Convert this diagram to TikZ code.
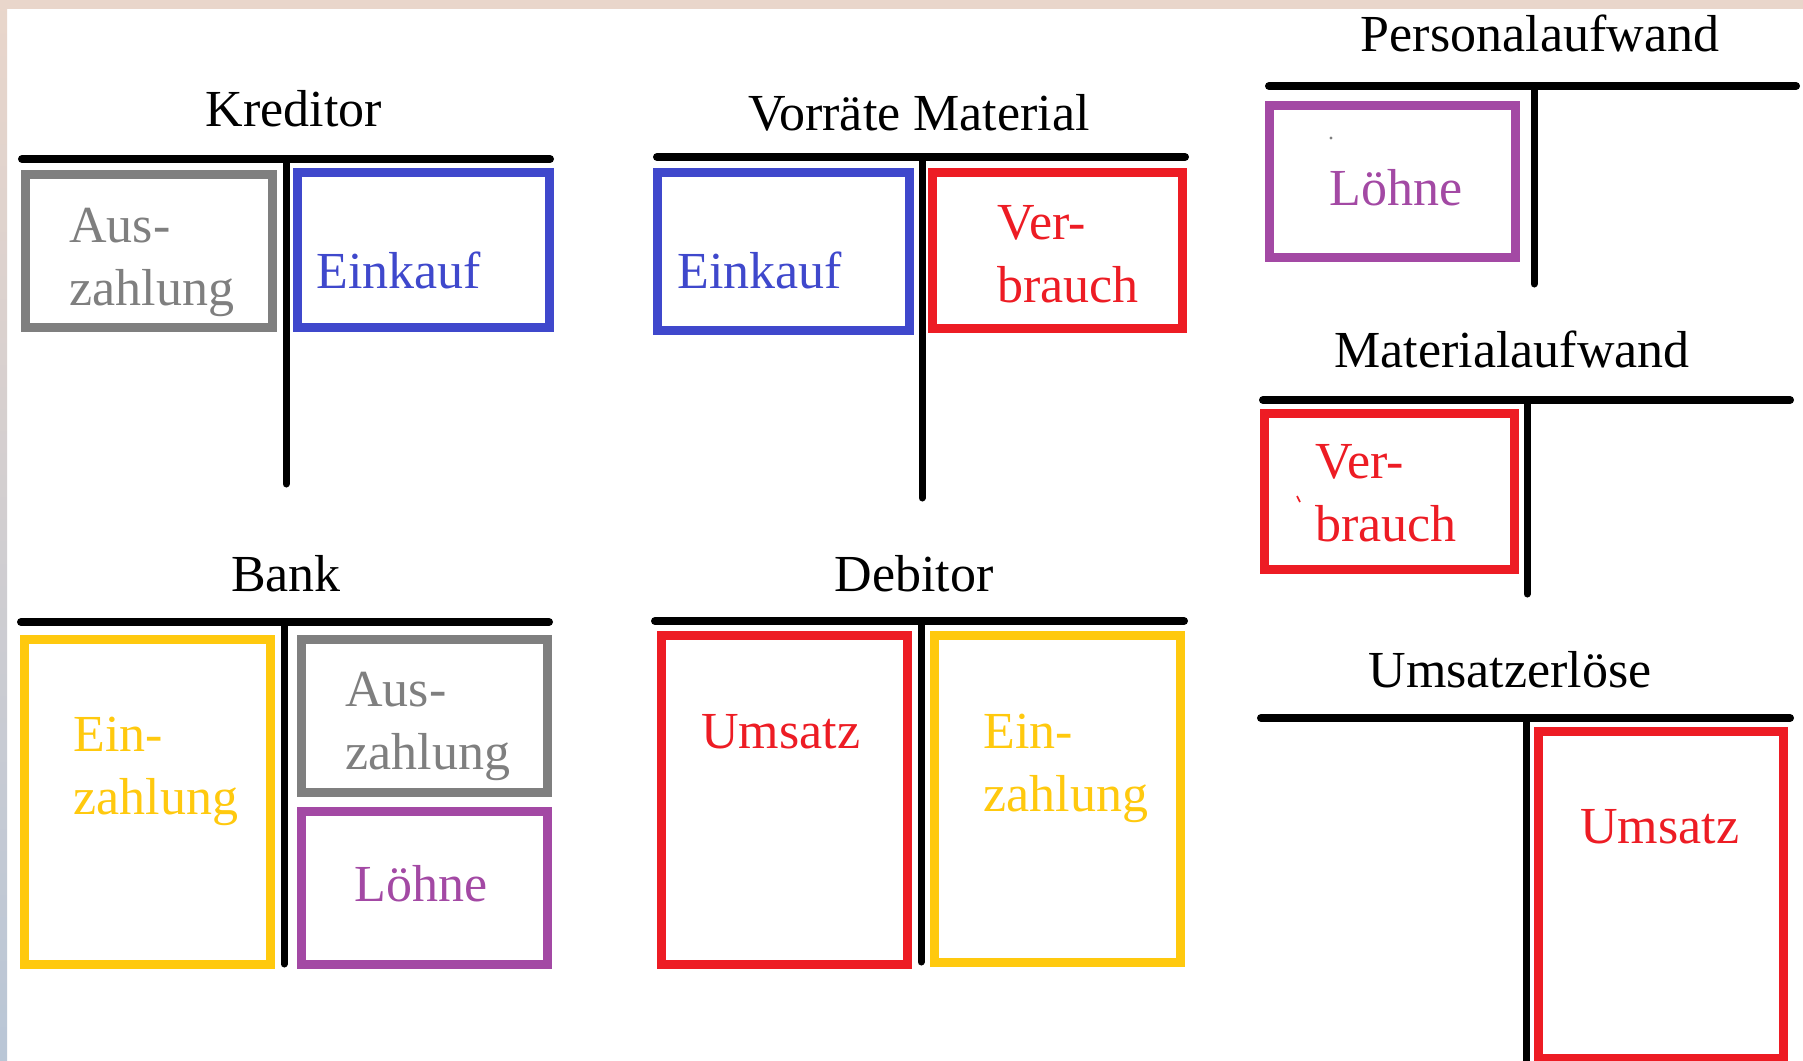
\documentclass[tikz,border=0pt]{standalone}
\usepackage{fontspec}
\setmainfont{Liberation Serif}
\definecolor{pgray}{HTML}{7F7F7F}
\definecolor{pblue}{HTML}{3F48CC}
\definecolor{pred}{HTML}{ED1C24}
\definecolor{pgold}{HTML}{FFC90E}
\definecolor{ppurple}{HTML}{A349A4}
\definecolor{bandtop}{HTML}{E9D6CB}
\definecolor{bandmid}{HTML}{D3C0C5}
\definecolor{bandbot}{HTML}{B9C6D6}
\begin{document}
\begin{tikzpicture}[x=0.5pt,y=-0.5pt,
  hbar/.style={line width=4pt, line cap=round},
  vbar/.style={line width=3.5pt, line cap=round},
  entrybox/.style={draw=#1, line width=4.5pt},
  % two-line labels sit on the baseline of their last line
  lbl/.style={anchor=base west, inner sep=0pt, align=left,
    font=\fontsize{26}{31.5}\selectfont},
  ttl/.style={anchor=base, inner sep=0pt, font=\fontsize{26}{31.5}\selectfont},
]
% page and frame
\useasboundingbox (0,0) rectangle (1803,1060);
\fill[white] (0,0) rectangle (1803,1060);
\fill[bandtop] (0,0) rectangle (1803,9);
\shade[top color=bandtop, middle color=bandmid, bottom color=bandbot] (0,0) rectangle (7,1060);

% ---------- Kreditor ----------
\node[ttl] (tKred) at (294,126) {Kreditor};
\draw[hbar] (22,159) -- (550,159);
\draw[vbar] (286,159) -- (286,484);
\draw[entrybox=pgray] (25.5,174.5) rectangle (272.5,327.5);
\draw[entrybox=pblue] (297.5,172.5) rectangle (549.5,327.5);
\node[lbl, text=pgray] (kredAus) at (69,305) {Aus-\\zahlung};
\node[lbl, text=pblue] (kredEin) at (316,288) {Einkauf};

% ---------- Vorräte Material ----------
\node[ttl] (tVorr) at (919,130) {Vorräte Material};
\draw[hbar] (657,157) -- (1185,157);
\draw[vbar] (922,157) -- (922,498);
\draw[entrybox=pblue] (657.5,172.5) rectangle (909.5,330.5);
\draw[entrybox=pred] (932.5,172.5) rectangle (1182.5,328.5);
\node[lbl, text=pblue] (vorrEin) at (677,288) {Einkauf};
\node[lbl, text=pred] (vorrVer) at (997,302) {Ver-\\brauch};

% ---------- Personalaufwand ----------
\node[ttl] (tPers) at (1540,51) {Personalaufwand};
\draw[hbar] (1269,86) -- (1796,86);
\draw[vbar] (1534,86) -- (1534,284);
\draw[entrybox=ppurple] (1269.5,105) rectangle (1515.5,257.5);
\node[lbl, text=ppurple] (persLoe) at (1329,205) {Löhne};
\fill[pgray] (1331,138) circle (1.6);

% ---------- Materialaufwand ----------
\node[ttl] (tMat) at (1512,367) {Materialaufwand};
\draw[hbar] (1263,400) -- (1790,400);
\draw[vbar] (1527,400) -- (1527,594);
\draw[entrybox=pred] (1264.5,413.5) rectangle (1514.5,569.5);
\node[lbl, text=pred] (matVer) at (1315,541) {Ver-\\brauch};
\draw[pred, line width=0.8pt] (1297,496) -- (1300,502);

% ---------- Umsatzerlöse ----------
\node[ttl] (tUms) at (1510,687) {Umsatzerlöse};
\draw[hbar] (1261,718) -- (1790,718);
\draw[vbar] (1526,718) -- (1526,1075);
\draw[entrybox=pred] (1538.5,731.5) rectangle (1783.5,1058);
\node[lbl, text=pred] (umsUms) at (1580,843) {Umsatz};

% ---------- Bank ----------
\node[ttl] (tBank) at (286,591) {Bank};
\draw[hbar] (21,622) -- (549,622);
\draw[vbar] (284,622) -- (284,964);
\draw[entrybox=pgold] (24.5,639.5) rectangle (270.5,964.5);
\draw[entrybox=pgray] (301.5,639.5) rectangle (547.5,792.5);
\draw[entrybox=ppurple] (301.5,811.5) rectangle (547.5,964.5);
\node[lbl, text=pgold] (bankEin) at (73,814) {Ein-\\zahlung};
\node[lbl, text=pgray] (bankAus) at (345,769) {Aus-\\zahlung};
\node[lbl, text=ppurple] (bankLoe) at (354,901) {Löhne};

% ---------- Debitor ----------
\node[ttl] (tDeb) at (914,591) {Debitor};
\draw[hbar] (655,621) -- (1184,621);
\draw[vbar] (921,621) -- (921,962);
\draw[entrybox=pred] (661.5,635.5) rectangle (907.5,964.5);
\draw[entrybox=pgold] (934.5,635.5) rectangle (1180.5,962.5);
\node[lbl, text=pred] (debUms) at (701,748) {Umsatz};
\node[lbl, text=pgold] (debEin) at (983,811) {Ein-\\zahlung};
\end{tikzpicture}
\end{document}
